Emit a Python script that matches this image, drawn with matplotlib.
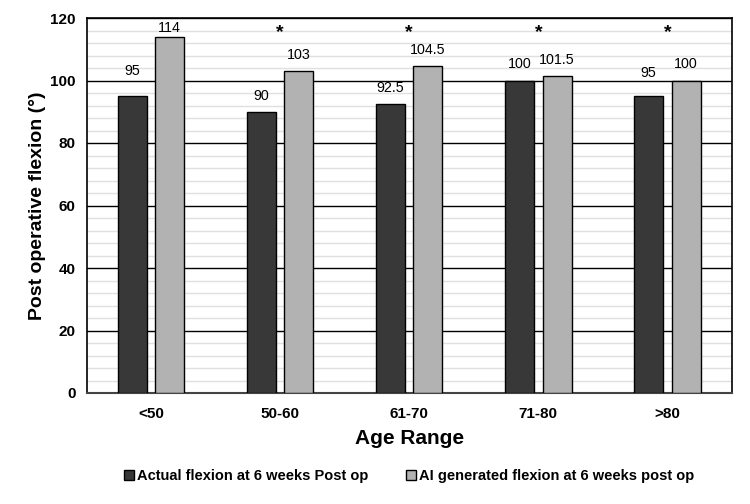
import matplotlib
matplotlib.use("Agg")
import matplotlib.pyplot as plt
import numpy as np
from matplotlib.ticker import MultipleLocator

plt.rcParams['font.family'] = ['Liberation Sans', 'DejaVu Sans']

categories = ['<50', '50-60', '61-70', '71-80', '>80']
actual = [95, 90, 92.5, 100, 95]
ai_gen = [114, 103, 104.5, 101.5, 100]
actual_labels = ['95', '90', '92.5', '100', '95']
ai_labels = ['114', '103', '104.5', '101.5', '100']
significant = [False, True, True, True, True]

fig = plt.figure(figsize=(7.5, 5.04), dpi=100)
ax = fig.add_axes([86.5/750, 1-393/504, (732-86.5)/750, (393-18)/504])

x = np.arange(len(categories))
w = 0.225
off = 0.145
b1 = ax.bar(x - off, actual, w, color='#383838', edgecolor='black', linewidth=1.0, zorder=3,
            label='Actual flexion at 6 weeks Post op')
b2 = ax.bar(x + off, ai_gen, w, color='#b2b2b2', edgecolor='black', linewidth=1.0, zorder=3,
            label='AI generated flexion at 6 weeks post op')

# label offsets in pixels (centre of text above bar top)
act_off = [25, 16, 16, 16, 23]
ai_off = [9, 16, 16, 16, 16]
for xi, v, t, o in zip(x - off, actual, actual_labels, act_off):
    ax.annotate(t, (xi, v), xytext=(0, o * 0.72), textcoords='offset points',
                ha='center', va='center', fontsize=10.3)
for xi, v, t, o in zip(x + off, ai_gen, ai_labels, ai_off):
    ax.annotate(t, (xi, v), xytext=(0, o * 0.72), textcoords='offset points',
                ha='center', va='center', fontsize=10.3)
for xi, s in zip(x, significant):
    if s:
        ax.text(xi, 115.3, '*', ha='center', va='center', fontsize=14, fontweight='bold')

ax.set_xlim(-0.5, 4.5)
ax.set_ylim(0, 120)
ax.yaxis.set_major_locator(MultipleLocator(20))
ax.yaxis.set_minor_locator(MultipleLocator(4))
ax.grid(axis='y', which='major', color='black', linewidth=1.0, zorder=1)
ax.grid(axis='y', which='minor', color='#e0e0e0', linewidth=1.0, zorder=0)
ax.tick_params(axis='y', which='both', length=0, labelsize=11, pad=8)
ax.tick_params(axis='x', length=0, labelsize=11, pad=10)
ax.set_xticks(x)
ax.set_xticklabels(categories)
for lab in ax.get_xticklabels() + ax.get_yticklabels():
    lab.set_fontweight('bold')
for s in ['left', 'bottom', 'right', 'top']:
    ax.spines[s].set_linewidth(1.2)
    ax.spines[s].set_color('black')
ax.spines['bottom'].set_color('#444444')
ax.spines['bottom'].set_linewidth(1.5)

ax.set_ylabel('Post operative flexion (°)', fontsize=14, fontweight='bold', labelpad=3)
ax.set_xlabel('Age Range', fontsize=15, fontweight='bold', labelpad=6)

leg = fig.legend(handles=[b1, b2], loc='center', bbox_to_anchor=(409/750, 1-476/504), ncol=2,
                 frameon=False, handlelength=0.7, handleheight=0.7,
                 handletextpad=0.2, columnspacing=2.6, prop={'weight': 'bold', 'size': 10.5})

fig.savefig('out.png', dpi=100)
